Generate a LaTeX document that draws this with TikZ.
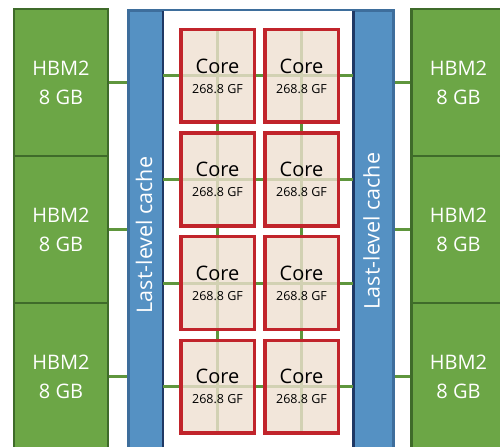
\documentclass[tikz,border=0pt]{standalone}
\usepackage{fontspec}
\setmainfont{Open Sans}
\definecolor{hbmfill}{HTML}{6CA646}
\definecolor{hbmline}{HTML}{3F6B2A}
\definecolor{chipfill}{HTML}{5591C3}
\definecolor{chipline}{HTML}{3E6E9C}
\definecolor{navy}{HTML}{1F3864}
\definecolor{corered}{HTML}{C1242B}
\definecolor{corefill}{HTML}{EFE0D1}
\definecolor{linkgreen}{HTML}{5F963D}
\tikzset{
  hbm/.style={draw=hbmline, line width=2.5bp, fill=hbmfill, text=white,
    minimum width=94bp, minimum height=147bp, inner sep=0pt, align=center,
    font=\fontsize{20bp}{29bp}\selectfont},
  corebox/.style={draw=corered, line width=3.5bp, fill=corefill, fill opacity=0.8,
    draw opacity=1, text opacity=1, minimum width=73.5bp, minimum height=92.5bp,
    inner sep=0pt, align=center, font=\fontsize{20bp}{20bp}\selectfont},
  cachelabel/.style={rotate=90, text=white, inner sep=0pt,
    font=\fontsize{21.5bp}{24bp}\selectfont},
  link/.style={draw=linkgreen, line width=3bp}
}
\begin{document}
\begin{tikzpicture}[x=1bp,y=-1bp]
\useasboundingbox (0,0) rectangle (500,447);
\clip (0,0) rectangle (500,447);
% chip with caches
\node[draw=chipline, line width=3bp, fill=chipfill, minimum width=265bp,
  minimum height=500bp, inner sep=0pt, anchor=north west] (chip) at (126.5,9.5) {};
\node[fill=white, minimum width=190bp, minimum height=500bp, inner sep=0pt,
  anchor=north west] (inner) at (163,11) {};
\draw[navy, line width=2.5bp] (inner.north west) -- (inner.south west);
\draw[navy, line width=2.5bp] (inner.north east) -- (inner.south east);
\node[cachelabel] (cacheL) at (144,235) {Last-level cache};
\node[cachelabel] (cacheR) at (371.5,231) {Last-level cache};
% HBM stacks
\node[hbm] (hl1) at (61,82.5) {HBM2\\8 GB};
\node[hbm] (hl2) at (61,229.5) {HBM2\\8 GB};
\node[hbm] (hl3) at (61,376.5) {HBM2\\8 GB};
\node[hbm] (hr1) at (458.5,82.5) {HBM2\\8 GB};
\node[hbm] (hr2) at (458.5,229.5) {HBM2\\8 GB};
\node[hbm] (hr3) at (458.5,376.5) {HBM2\\8 GB};
\foreach \i in {1,2,3}{
  \draw[link] (hl\i.east) -- (chip.west |- hl\i.east);
  \draw[link] (hr\i.west) -- (chip.east |- hr\i.west);
}
% mesh links behind the cores
\foreach \r/\y in {1/76,2/179.5,3/283,4/386.5}{
  \coordinate (m\r) at (217.5,\y);
  \draw[link] (inner.west |- m\r) -- (inner.east |- m\r);
}
\draw[link] (217.5,29.5) -- (217.5,433);
\draw[link] (301.5,29.5) -- (301.5,433);
% cores
\foreach \r/\y in {1/76,2/179.5,3/283,4/386.5}{
  \node[corebox] (c\r1) at (217.5,\y) {Core\\[0pt]{\fontsize{12.5bp}{20bp}\selectfont 268.8 GF}};
  \node[corebox] (c\r2) at (301.5,\y) {Core\\[0pt]{\fontsize{12.5bp}{20bp}\selectfont 268.8 GF}};
}
\end{tikzpicture}
\end{document}
